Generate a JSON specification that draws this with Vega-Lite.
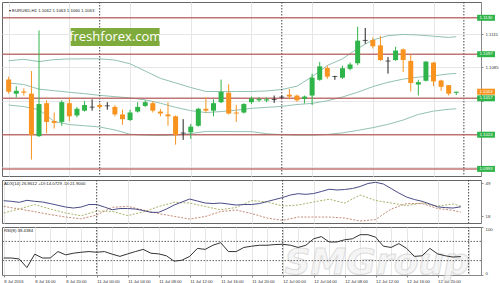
{
"$schema":"https://vega.github.io/schema/vega-lite/v6.json",
"padding":{"left":0,"top":1,"right":0,"bottom":0},
"background":"white",
"spacing":2,
"config":{"view":{"stroke":"#666","strokeWidth":1},"font":"Liberation Sans",
"axis":{"labelFontSize":4.3,"labelColor":"#333","gridColor":"#e6e6e6","gridWidth":1,"domainColor":"#888","tickColor":"#888","tickSize":2,"labelPadding":2,"title":null}},
"datasets":{
"bars":[
{"i":0,"o":1.10740,"h":1.10766,"l":1.10612,"c":1.10629,"k":"down","up":1.10911,"mid":1.10709,"lo":1.10509,"adx":32.52,"pdi":21.07,"mdi":27.31,"rsi":35.4},
{"i":1,"o":1.10612,"h":1.10680,"l":1.10578,"c":1.10638,"k":"up","adx":31.96,"rsi":35.4},
{"i":2,"o":1.10632,"h":1.10660,"l":1.10595,"c":1.10621,"k":"down","up":1.10924,"mid":1.10695,"lo":1.10495,"adx":31.03,"pdi":24.86,"mdi":24.79,"rsi":33.4},
{"i":3,"o":1.10612,"h":1.10817,"l":1.10014,"c":1.10236,"k":"down","adx":32.89,"rsi":15.4},
{"i":4,"o":1.10227,"h":1.11185,"l":1.10220,"c":1.10518,"k":"up","up":1.10903,"mid":1.10653,"lo":1.10467,"adx":31.96,"pdi":28.98,"mdi":22.37,"rsi":43.4},
{"i":5,"o":1.10526,"h":1.10552,"l":1.10253,"c":1.10356,"k":"down","adx":31.31,"rsi":35.4},
{"i":6,"o":1.10364,"h":1.10441,"l":1.10296,"c":1.10347,"k":"down","up":1.10921,"mid":1.10639,"lo":1.10360,"adx":29.91,"pdi":24.79,"mdi":19.67,"rsi":35.4},
{"i":7,"o":1.10356,"h":1.10552,"l":1.10321,"c":1.10535,"k":"up","adx":28.24,"rsi":48.8},
{"i":8,"o":1.10526,"h":1.10578,"l":1.10364,"c":1.10407,"k":"down","up":1.10927,"mid":1.10625,"lo":1.10332,"adx":26.66,"pdi":21.07,"mdi":17.35,"rsi":42},
{"i":9,"o":1.10415,"h":1.10492,"l":1.10398,"c":1.10475,"k":"up","adx":25.73,"rsi":45.4},
{"i":10,"o":1.10458,"h":1.10544,"l":1.10450,"c":1.10509,"k":"up","up":1.10928,"mid":1.10612,"lo":1.10321,"adx":26.66,"pdi":18.56,"mdi":15.67,"rsi":47.4},
{"i":11,"o":1.10492,"h":1.10561,"l":1.10458,"c":1.10490,"k":"doji","adx":28.98,"rsi":48.8},
{"i":12,"o":1.10509,"h":1.10526,"l":1.10475,"c":1.10492,"k":"down","up":1.10928,"mid":1.10597,"lo":1.10310,"adx":28.98,"pdi":22.93,"mdi":19.21,"rsi":47.4},
{"i":13,"o":1.10500,"h":1.10535,"l":1.10467,"c":1.10502,"k":"doji","adx":26.66,"rsi":48.8},
{"i":14,"o":1.10492,"h":1.10509,"l":1.10407,"c":1.10424,"k":"down","up":1.10917,"mid":1.10585,"lo":1.10283,"adx":24.14,"pdi":22.65,"mdi":26.38,"rsi":43.4},
{"i":15,"o":1.10424,"h":1.10467,"l":1.10330,"c":1.10381,"k":"down","adx":25.26,"rsi":38.8},
{"i":16,"o":1.10373,"h":1.10467,"l":1.10364,"c":1.10441,"k":"up","up":1.10883,"mid":1.10574,"lo":1.10244,"adx":25.26,"pdi":18.74,"mdi":27.31,"rsi":44},
{"i":17,"o":1.10450,"h":1.10535,"l":1.10441,"c":1.10492,"k":"up","adx":24.79,"rsi":48.8},
{"i":18,"o":1.10501,"h":1.10552,"l":1.10492,"c":1.10535,"k":"up","up":1.10817,"mid":1.10556,"lo":1.10236,"adx":23.40,"pdi":22.00,"mdi":23.86,"rsi":53.4},
{"i":19,"o":1.10526,"h":1.10544,"l":1.10441,"c":1.10458,"k":"down","adx":21.72,"rsi":45.4},
{"i":20,"o":1.10450,"h":1.10475,"l":1.10407,"c":1.10432,"k":"down","up":1.10751,"mid":1.10526,"lo":1.10233,"adx":21.72,"pdi":27.12,"mdi":20.51,"rsi":44},
{"i":21,"o":1.10424,"h":1.10535,"l":1.10321,"c":1.10407,"k":"down","adx":24.79,"rsi":40},
{"i":22,"o":1.10407,"h":1.10415,"l":1.10150,"c":1.10236,"k":"down","up":1.10710,"mid":1.10488,"lo":1.10238,"adx":28.52,"pdi":31.03,"mdi":18.00,"rsi":28.8},
{"i":23,"o":1.10253,"h":1.10381,"l":1.10193,"c":1.10255,"k":"doji","adx":31.31,"rsi":30.8},
{"i":24,"o":1.10262,"h":1.10338,"l":1.10202,"c":1.10313,"k":"up","up":1.10668,"mid":1.10458,"lo":1.10250,"adx":34.10,"pdi":30.38,"mdi":15.48,"rsi":38.8},
{"i":25,"o":1.10321,"h":1.10484,"l":1.10313,"c":1.10475,"k":"up","adx":32.24,"rsi":55.4},
{"i":26,"o":1.10475,"h":1.10578,"l":1.10441,"c":1.10458,"k":"down","up":1.10632,"mid":1.10441,"lo":1.10270,"adx":30.38,"pdi":27.12,"mdi":17.81,"rsi":53.4},
{"i":27,"o":1.10458,"h":1.10561,"l":1.10407,"c":1.10526,"k":"up","adx":29.91,"rsi":62},
{"i":28,"o":1.10535,"h":1.10740,"l":1.10526,"c":1.10629,"k":"up","up":1.10631,"mid":1.10450,"lo":1.10270,"adx":30.38,"pdi":24.14,"mdi":22.47,"rsi":67.4},
{"i":29,"o":1.10621,"h":1.10697,"l":1.10424,"c":1.10432,"k":"down","adx":29.45,"rsi":48.8},
{"i":30,"o":1.10441,"h":1.10509,"l":1.10356,"c":1.10432,"k":"down","up":1.10632,"mid":1.10462,"lo":1.10268,"adx":28.52,"pdi":26.19,"mdi":23.86,"rsi":48.8},
{"i":31,"o":1.10441,"h":1.10526,"l":1.10432,"c":1.10518,"k":"up","adx":28.98,"rsi":57.4},
{"i":32,"o":1.10535,"h":1.10586,"l":1.10518,"c":1.10569,"k":"up","up":1.10632,"mid":1.10479,"lo":1.10268,"adx":28.98,"pdi":32.71,"mdi":20.60,"rsi":60},
{"i":33,"o":1.10552,"h":1.10580,"l":1.10538,"c":1.10563,"k":"up","adx":29.91,"rsi":62},
{"i":34,"o":1.10550,"h":1.10578,"l":1.10535,"c":1.10561,"k":"up","up":1.10637,"mid":1.10488,"lo":1.10249,"adx":31.78,"pdi":31.31,"mdi":16.42,"rsi":62},
{"i":35,"o":1.10558,"h":1.10595,"l":1.10529,"c":1.10559,"k":"doji","adx":33.64,"rsi":63.4},
{"i":36,"o":1.10580,"h":1.10595,"l":1.10567,"c":1.10581,"k":"doji","up":1.10650,"mid":1.10497,"lo":1.10240,"adx":35.50,"pdi":27.59,"mdi":14.27,"rsi":64},
{"i":37,"o":1.10603,"h":1.10655,"l":1.10561,"c":1.10586,"k":"down","adx":37.83,"rsi":62},
{"i":38,"o":1.10595,"h":1.10603,"l":1.10538,"c":1.10552,"k":"down","up":1.10680,"mid":1.10514,"lo":1.10236,"adx":39.04,"pdi":28.52,"mdi":17.35,"rsi":57.4},
{"i":39,"o":1.10567,"h":1.10595,"l":1.10524,"c":1.10586,"k":"up","adx":38.48,"rsi":62},
{"i":40,"o":1.10595,"h":1.10794,"l":1.10509,"c":1.10757,"k":"up","up":1.10766,"mid":1.10524,"lo":1.10236,"adx":39.22,"pdi":31.31,"mdi":17.35,"rsi":75.4},
{"i":41,"o":1.10738,"h":1.10900,"l":1.10729,"c":1.10860,"k":"up","adx":41.09,"rsi":80},
{"i":42,"o":1.10845,"h":1.10866,"l":1.10746,"c":1.10766,"k":"down","up":1.10868,"mid":1.10548,"lo":1.10242,"adx":43.23,"pdi":33.92,"mdi":17.35,"rsi":68.8},
{"i":43,"o":1.10766,"h":1.10774,"l":1.10738,"c":1.10768,"k":"doji","adx":42.48,"rsi":68.8},
{"i":44,"o":1.10757,"h":1.10866,"l":1.10746,"c":1.10843,"k":"up","up":1.10928,"mid":1.10582,"lo":1.10257,"adx":42.95,"pdi":30.38,"mdi":16.42,"rsi":73.4},
{"i":45,"o":1.10837,"h":1.10894,"l":1.10823,"c":1.10877,"k":"up","adx":43.88,"rsi":75.4},
{"i":46,"o":1.10888,"h":1.11219,"l":1.10871,"c":1.11093,"k":"up","up":1.11022,"mid":1.10625,"lo":1.10279,"adx":45.74,"pdi":37.83,"mdi":13.62,"rsi":84},
{"i":47,"o":1.11093,"h":1.11208,"l":1.11065,"c":1.11095,"k":"doji","adx":48.53,"rsi":84},
{"i":48,"o":1.11099,"h":1.11122,"l":1.11022,"c":1.11042,"k":"down","up":1.11099,"mid":1.10676,"lo":1.10304,"adx":49.65,"pdi":32.71,"mdi":15.02,"rsi":78.8},
{"i":49,"o":1.11050,"h":1.11136,"l":1.10909,"c":1.10917,"k":"down","adx":48.07,"rsi":60},
{"i":50,"o":1.10909,"h":1.10945,"l":1.10794,"c":1.10908,"k":"doji","up":1.11138,"mid":1.10715,"lo":1.10334,"adx":43.88,"pdi":30.38,"mdi":24.79,"rsi":57.4},
{"i":51,"o":1.10917,"h":1.11037,"l":1.10909,"c":1.11003,"k":"up","adx":39.69,"rsi":65.4},
{"i":52,"o":1.11014,"h":1.11022,"l":1.10809,"c":1.10917,"k":"down","up":1.11149,"mid":1.10744,"lo":1.10373,"adx":35.97,"pdi":28.05,"mdi":29.91,"rsi":55.4},
{"i":53,"o":1.10909,"h":1.10965,"l":1.10632,"c":1.10709,"k":"down","adx":33.64,"rsi":38.8},
{"i":54,"o":1.10695,"h":1.10738,"l":1.10595,"c":1.10717,"k":"up","up":1.11144,"mid":1.10762,"lo":1.10424,"adx":31.96,"pdi":30.38,"mdi":29.91,"rsi":40},
{"i":55,"o":1.10729,"h":1.10909,"l":1.10723,"c":1.10903,"k":"up","adx":29.45,"rsi":55.4},
{"i":56,"o":1.10894,"h":1.10900,"l":1.10680,"c":1.10723,"k":"down","up":1.11133,"mid":1.10774,"lo":1.10454,"adx":26.84,"pdi":27.59,"mdi":25.26,"rsi":44},
{"i":57,"o":1.10732,"h":1.10738,"l":1.10638,"c":1.10674,"k":"down","adx":26.10,"rsi":40},
{"i":58,"o":1.10689,"h":1.10689,"l":1.10595,"c":1.10612,"k":"down","up":1.11122,"mid":1.10791,"lo":1.10471,"adx":25.73,"pdi":29.45,"mdi":23.58,"rsi":37.4},
{"i":59,"o":1.1062,"h":1.1063,"l":1.1060,"c":1.1063,"k":"up","up":1.11129,"mid":1.10796,"lo":1.10475,"adx":26.86,"pdi":27.31,"mdi":21.90,"rsi":38.44}
],
"levels":[
{"p":1.1130,"t":"1.1130","kind":"line"},
{"p":1.1097,"t":"1.1097","kind":"line"},
{"p":1.1057,"t":"1.1057","kind":"line"},
{"p":1.1024,"t":"1.1024","kind":"line"},
{"p":1.0993,"t":"1.0993","kind":"line"},
{"p":1.1063,"t":"1.1063","kind":"price"}
],
"days":[{"i":12},{"i":36},{"i":60}],
"one":[{}]
},
"vconcat":[
{
"width":479,"height":174,
"layer":[
{"data":{"name":"bars"},"transform":[{"filter":"isValid(datum.up)"}],"mark":{"type":"line","color":"#93c2b3","strokeWidth":1},
"encoding":{
"x":{"field":"i","type":"quantitative","scale":{"domain":[-0.22,61.6],"nice":false,"zero":false},
"axis":{"values":[0,2,4,6,8,10,12,14,16,18,20,22,24,26,28,30,32,34,36,38,40,42,44,46,48,50,52,54,56,58,60],"labels":false,"ticks":false,"domain":false,"grid":true}},
"y":{"field":"up","type":"quantitative","scale":{"domain":[1.09911,1.11398],"nice":false,"zero":false},
"axis":{"orient":"right","values":[1.0995,1.101,1.1025,1.104,1.1055,1.107,1.1085,1.11,1.1115,1.113],"labelExpr":"(datum.value==1.101||datum.value==1.104||datum.value==1.107||datum.value==1.1085||datum.value==1.1115)?format(datum.value,'.4f'):''","grid":true}}}},
{"data":{"name":"bars"},"transform":[{"filter":"isValid(datum.mid)"}],"mark":{"type":"line","color":"#93c2b3","strokeWidth":1},"encoding":{"x":{"field":"i","type":"quantitative"},"y":{"field":"mid","type":"quantitative"}}},
{"data":{"name":"bars"},"transform":[{"filter":"isValid(datum.lo)"}],"mark":{"type":"line","color":"#93c2b3","strokeWidth":1},"encoding":{"x":{"field":"i","type":"quantitative"},"y":{"field":"lo","type":"quantitative"}}},
{"data":{"name":"days"},"mark":{"type":"rule","color":"#444","strokeDash":[1.5,1.5],"strokeWidth":1},"encoding":{"x":{"field":"i","type":"quantitative"}}},
{"data":{"name":"levels"},"transform":[{"filter":"datum.kind=='line'"}],"mark":{"type":"rule","color":"#b65c5c","strokeWidth":1.5,"opacity":0.85},"encoding":{"y":{"field":"p","type":"quantitative"}}},
{"data":{"name":"one"},"mark":{"type":"bar","color":"#7fab3c","size":18},"encoding":{"x":{"datum":8.17},"x2":{"datum":19.9},"y":{"datum":1.11125}}},
{"data":{"name":"one"},"mark":{"type":"text","color":"white","fontSize":13,"font":"Open Sans","align":"center","baseline":"middle"},"encoding":{"x":{"datum":14.05},"y":{"datum":1.11125},"text":{"value":"freshforex.com"}}},
{"data":{"name":"bars"},"mark":{"type":"rule","strokeWidth":1},
"encoding":{"x":{"field":"i","type":"quantitative"},"y":{"field":"l","type":"quantitative"},"y2":{"field":"h"},
"color":{"field":"k","type":"nominal","scale":{"domain":["up","down","doji"],"range":["#2fb44a","#f7931e","#222"]},"legend":null}}},
{"data":{"name":"bars"},"transform":[{"filter":"datum.k!='doji'"}],"mark":{"type":"bar","size":5},
"encoding":{"x":{"field":"i","type":"quantitative"},"y":{"field":"o","type":"quantitative"},"y2":{"field":"c"},
"color":{"field":"k","type":"nominal","scale":{"domain":["up","down","doji"],"range":["#2fb44a","#f7931e","#222"]},"legend":null}}},
{"data":{"name":"bars"},"transform":[{"filter":"datum.k=='doji'"}],"mark":{"type":"tick","orient":"horizontal","size":5,"thickness":1,"color":"#222"},
"encoding":{"x":{"field":"i","type":"quantitative"},"y":{"field":"c","type":"quantitative"}}},
{"data":{"name":"levels"},"mark":{"type":"bar","size":6,"orient":"horizontal"},
"encoding":{"x":{"datum":61.75},"x2":{"datum":64.1},"y":{"field":"p","type":"quantitative"},
"color":{"field":"kind","type":"nominal","scale":{"domain":["line","price"],"range":["#d8262e","#0e1f6e"]},"legend":null}}},
{"data":{"name":"levels"},"mark":{"type":"text","color":"white","fontSize":4.3,"align":"center","baseline":"middle"},
"encoding":{"x":{"datum":62.92},"y":{"field":"p","type":"quantitative"},"text":{"field":"t"}}},
{"data":{"name":"one"},"mark":{"type":"text","color":"#222","fontSize":4.3,"align":"left","baseline":"middle","dx":1},
"encoding":{"x":{"datum":-0.1},"y":{"datum":1.1136},"text":{"value":"▾ EURUSD,H1  1.1062 1.1063 1.1060 1.1063"}}}
]
},
{
"width":479,"height":43,
"layer":[
{"data":{"name":"bars"},"transform":[{"filter":"isValid(datum.pdi)"}],"mark":{"type":"line","color":"#a9b36a","strokeWidth":1,"strokeDash":[2,1.5]},
"encoding":{
"x":{"field":"i","type":"quantitative","scale":{"domain":[-0.22,61.6],"nice":false,"zero":false},
"axis":{"values":[0,2,4,6,8,10,12,14,16,18,20,22,24,26,28,30,32,34,36,38,40,42,44,46,48,50,52,54,56,58,60],"labels":false,"ticks":false,"domain":false,"grid":true}},
"y":{"field":"pdi","type":"quantitative","scale":{"domain":[11.8,51.8],"nice":false,"zero":false},
"axis":{"orient":"right","values":[18,27,38,49],"grid":false}}}},
{"data":{"name":"bars"},"transform":[{"filter":"isValid(datum.mdi)"}],"mark":{"type":"line","color":"#c58a78","strokeWidth":1,"strokeDash":[2,1.5]},"encoding":{"x":{"field":"i","type":"quantitative"},"y":{"field":"mdi","type":"quantitative"}}},
{"data":{"name":"bars"},"mark":{"type":"line","color":"#4b4b86","strokeWidth":1},"encoding":{"x":{"field":"i","type":"quantitative"},"y":{"field":"adx","type":"quantitative"}}},
{"data":{"name":"days"},"mark":{"type":"rule","color":"#444","strokeDash":[1.5,1.5],"strokeWidth":1},"encoding":{"x":{"field":"i","type":"quantitative"}}},
{"data":{"name":"one"},"mark":{"type":"text","color":"#222","fontSize":4.3,"align":"left","baseline":"middle","dx":1},
"encoding":{"x":{"datum":-0.1},"y":{"datum":48},"text":{"value":"ADX(14) 26.8612 +DI:14.0729 -DI:21.9000"}}}
]
},
{
"width":479,"height":48,
"resolve":{"axis":{"x":"independent"}},
"layer":[
{"data":{"name":"one"},"mark":{"type":"text","fontSize":36,"fontStyle":"italic","fontWeight":"bold","font":"DejaVu Sans","fill":"#f2f2f2","stroke":"#cfcfcf","strokeWidth":1,"opacity":0.7,"align":"center","baseline":"middle"},
"encoding":{"x":{"datum":48.2,"type":"quantitative","scale":{"domain":[-0.22,61.6],"nice":false,"zero":false},
"axis":{"orient":"bottom","values":[0,2,4,6,8,10,12,14,16,18,20,22,24,26,28,30,32,34,36,38,40,42,44,46,48,50,52,54,56,58,60],"labels":false,"ticks":false,"domain":false,"grid":true}},
"y":{"datum":25,"type":"quantitative","scale":{"domain":[0,100],"nice":false,"zero":false},
"axis":{"orient":"right","values":[0,30,70,100],"grid":false,"labelFlush":true}},
"text":{"value":"SMGroup"}}},
{"data":{"name":"one"},"mark":{"type":"rule","color":"#666","strokeDash":[1.5,1.5],"strokeWidth":1},"encoding":{"y":{"datum":70}}},
{"data":{"name":"one"},"mark":{"type":"rule","color":"#666","strokeDash":[1.5,1.5],"strokeWidth":1},"encoding":{"y":{"datum":30}}},
{"data":{"name":"days"},"mark":{"type":"rule","color":"#444","strokeDash":[1.5,1.5],"strokeWidth":1},"encoding":{"x":{"field":"i","type":"quantitative","axis":null}}},
{"data":{"name":"bars"},"mark":{"type":"line","color":"#333","strokeWidth":1},
"encoding":{"x":{"field":"i","type":"quantitative",
"axis":{"orient":"bottom","values":[0,4,8,12,16,20,24,28,32,36,40,44,48,52,56],"grid":false,"labelAlign":"left","labelFlush":false,"labelOverlap":false,"labelFontSize":4.2,"domain":true,"ticks":true,
"labelExpr":"['8 Jul 2016','8 Jul 16:00','8 Jul 20:00','11 Jul 00:00','11 Jul 04:00','11 Jul 08:00','11 Jul 12:00','11 Jul 16:00','11 Jul 20:00','12 Jul 00:00','12 Jul 04:00','12 Jul 08:00','12 Jul 12:00','12 Jul 16:00','12 Jul 20:00'][round(datum.value/4)]"}},
"y":{"field":"rsi","type":"quantitative"}}},
{"data":{"name":"one"},"mark":{"type":"text","color":"#222","fontSize":4.3,"align":"left","baseline":"middle","dx":1},
"encoding":{"x":{"datum":-0.1,"axis":null},"y":{"datum":92.7},"text":{"value":"RSI(8) 38.4384"}}}
]
}
]
}
